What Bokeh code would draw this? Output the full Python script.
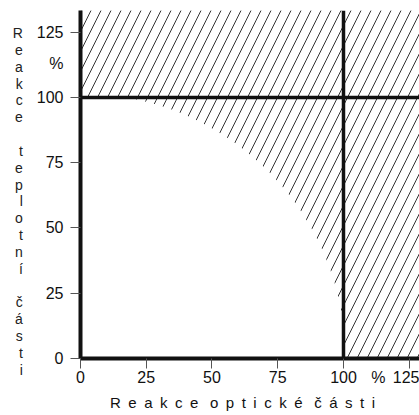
from bokeh.plotting import figure
from bokeh.models import Range1d, Span, FixedTicker
from bokeh.embed import file_html
from bokeh.resources import INLINE

# values
x_ticks = [0, 25, 50, 75, 100, 125]
y_ticks = [0, 25, 50, 75, 100, 125]
x_max = 128.9
y_max = 133.3
limit_x = 100
limit_y = 100
arc_radius = 100.8
x_title_words = ["Reakce", "optické", "části"]
y_title_words = ["Reakce", "teplotní", "části"]
x_pct_pos = 113.3
y_pct_pos = 113

FONT = "Liberation Sans"
EN = "\u2002"
NB = "\u00a0"

p = figure(width=419, height=415, output_backend="svg", toolbar_location=None,
           x_range=Range1d(0, x_max), y_range=Range1d(0, y_max),
           min_border_left=80, min_border_right=0, min_border_top=10, min_border_bottom=57)
p.outline_line_color = None
p.grid.visible = False

hatch = dict(fill_color="white", line_color=None, hatch_pattern="/",
             hatch_color="#333333", hatch_weight=1, hatch_scale=20)
# hatched background over the whole frame
p.quad(left=[0], right=[x_max], bottom=[0], top=[y_max], **hatch)
# white quarter disc (non-hatched)
p.wedge(x=[0], y=[0], radius=[arc_radius], start_angle=0, end_angle=90,
        start_angle_units="deg", end_angle_units="deg",
        fill_color="white", line_color=None)
# hatch again beyond the limits (slivers of the disc beyond 100)
p.quad(left=[limit_x], right=[x_max], bottom=[0], top=[y_max], **hatch)
p.quad(left=[0], right=[limit_x], bottom=[limit_y], top=[y_max], **hatch)

p.add_layout(Span(location=limit_x, dimension="height", line_color="#111111", line_width=3.5))
p.add_layout(Span(location=limit_y, dimension="width", line_color="#111111", line_width=3.5))

for ax, ticks, pct in ((p.xaxis, x_ticks, x_pct_pos), (p.yaxis, y_ticks, y_pct_pos)):
    # labelled positions (incl. the "%" unit) as major ticks, visible marks as minor ticks
    ax.ticker = FixedTicker(ticks=sorted(ticks + [pct]), minor_ticks=ticks)
    ax.major_label_overrides = {pct: "%"}
    ax.axis_line_color = "#111111"
    ax.axis_line_width = 4
    ax.major_tick_line_color = None
    ax.major_tick_out = 10
    ax.major_tick_in = 0
    ax.minor_tick_line_color = "#555555"
    ax.minor_tick_line_width = 1
    ax.minor_tick_out = 10
    ax.minor_tick_in = 0
    ax.major_label_text_font = FONT
    ax.major_label_text_font_size = "16px"
    ax.major_label_text_color = "#111111"

p.xaxis.major_label_standoff = 0
p.yaxis.major_label_standoff = 7

p.xaxis.axis_label = (EN + NB).join(EN.join(w) for w in x_title_words) + EN + EN
p.xaxis.axis_label_text_font = FONT
p.xaxis.axis_label_text_font_size = "15px"
p.xaxis.axis_label_text_font_style = "normal"
p.xaxis.axis_label_text_color = "#111111"
p.xaxis.axis_label_standoff = 5

# stacked (one letter per line) y title
p.yaxis.axis_label = NB + "\n" + NB + "\n" + ("\n" + NB + "\n").join("\n".join(w) for w in y_title_words)
p.yaxis.axis_label_orientation = "horizontal"
p.yaxis.axis_label_text_font = FONT
p.yaxis.axis_label_text_font_size = "14px"
p.yaxis.axis_label_text_font_style = "normal"
p.yaxis.axis_label_text_color = "#222222"
p.yaxis.axis_label_text_line_height = 1.052
p.yaxis.axis_label_standoff = 11

open("out.html", "w").write(file_html(p, INLINE))
